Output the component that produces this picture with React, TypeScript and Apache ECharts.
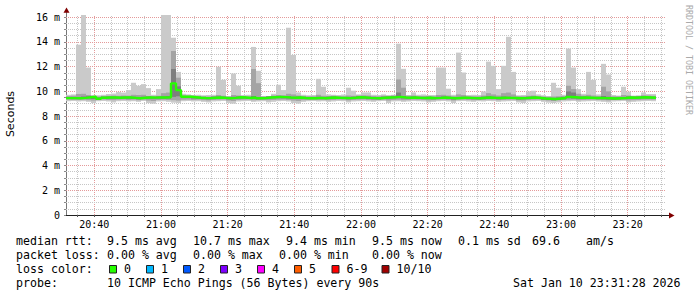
import React, { useEffect, useRef } from 'react';
import * as echarts from 'echarts';

// time in minutes of day
const axisStartMin = 1231.5; // 20:31:30
const axisEndMin = 1411.5; // 23:31:30
const firstStepMin = 1231.5;
const stepMin = 1.5; // 90 s

const xTickValues = [1240, 1260, 1280, 1300, 1320, 1340, 1360, 1380, 1400];
const xTickLabels = ['20:40', '21:00', '21:20', '21:40', '22:00', '22:20', '22:40', '23:00', '23:20'];
const yTickValues = [0, 2, 4, 6, 8, 10, 12, 14, 16];
const yTickLabels = ['0', '2 m', '4 m', '6 m', '8 m', '10 m', '12 m', '14 m', '16 m'];

// smoke: ping 1 (min) .. ping 10 (max), ms
const ping1 = [
  9.20, 9.22, 9.18, 9.20, 9.15, 9.05, 9.20, 9.22, 9.18, 9.10,
  9.20, 9.22, 9.18, 9.20, 9.15, 9.22, 9.05, 9.00, 9.18, 9.20,
  9.15, 9.08, 9.05, 9.20, 9.22, 9.18, 9.20, 9.15, 9.10, 9.18,
  9.20, 9.22, 9.05, 9.00, 9.18, 9.20, 9.22, 9.15, 9.18, 9.20,
  9.10, 9.15, 9.20, 9.22, 9.18, 9.05, 9.00, 9.15, 9.20, 9.22,
  9.18, 9.20, 9.15, 9.18, 9.22, 9.20, 9.10, 9.18, 9.20, 9.22,
  9.18, 9.15, 9.20, 9.22, 9.05, 9.18, 9.20, 9.15, 9.18, 9.22,
  9.20, 9.18, 9.10, 9.15, 9.20, 9.22, 9.18, 9.05, 9.20, 9.22,
  9.18, 9.15, 9.20, 9.18, 9.22, 9.20, 9.15, 9.18, 9.20, 9.22,
  9.10, 9.05, 9.18, 9.20, 9.22, 9.15, 9.08, 9.05, 9.10, 9.18,
  9.20, 9.22, 9.15, 9.18, 9.20, 9.22, 9.18, 9.15, 9.10, 9.18,
  9.20, 9.22, 9.10, 9.15, 9.18, 9.20, 9.22, 9.20,
];
const ping2 = [
  9.32, 9.33, 9.30, 9.32, 9.28, 9.25, 9.32, 9.33, 9.30, 9.28,
  9.32, 9.33, 9.30, 9.32, 9.28, 9.33, 9.25, 9.22, 9.30, 9.32,
  9.30, 9.28, 9.25, 9.32, 9.33, 9.30, 9.32, 9.28, 9.26, 9.30,
  9.32, 9.33, 9.25, 9.22, 9.30, 9.32, 9.33, 9.28, 9.30, 9.32,
  9.28, 9.30, 9.32, 9.33, 9.30, 9.25, 9.22, 9.28, 9.32, 9.33,
  9.30, 9.32, 9.28, 9.30, 9.33, 9.32, 9.26, 9.30, 9.32, 9.33,
  9.30, 9.28, 9.32, 9.33, 9.25, 9.30, 9.32, 9.28, 9.30, 9.33,
  9.32, 9.30, 9.26, 9.28, 9.32, 9.33, 9.30, 9.25, 9.32, 9.33,
  9.30, 9.28, 9.32, 9.30, 9.33, 9.32, 9.28, 9.30, 9.32, 9.33,
  9.26, 9.25, 9.30, 9.32, 9.33, 9.28, 9.25, 9.22, 9.26, 9.30,
  9.32, 9.33, 9.28, 9.30, 9.32, 9.33, 9.30, 9.28, 9.26, 9.30,
  9.32, 9.33, 9.26, 9.28, 9.30, 9.32, 9.33, 9.32,
];
const ping3 = [
  9.38, 9.36, 9.38, 9.40, 9.42, 9.38, 9.30, 9.40, 9.42, 9.40,
  9.40, 9.42, 9.40, 9.38, 9.36, 9.40, 9.42, 9.40, 9.42, 9.40,
  9.42, 9.55, 9.60, 9.46, 9.46, 9.42, 9.40, 9.38, 9.36, 9.40,
  9.42, 9.38, 9.36, 9.38, 9.42, 9.42, 9.38, 9.38, 9.36, 9.36,
  9.42, 9.44, 9.46, 9.44, 9.42, 9.40, 9.42, 9.38, 9.36, 9.36,
  9.38, 9.36, 9.40, 9.42, 9.38, 9.38, 9.36, 9.40, 9.42, 9.42,
  9.38, 9.36, 9.34, 9.40, 9.42, 9.44, 9.46, 9.42, 9.40, 9.42,
  9.38, 9.38, 9.40, 9.36, 9.38, 9.42, 9.38, 9.34, 9.38, 9.40,
  9.38, 9.36, 9.34, 9.40, 9.42, 9.38, 9.36, 9.40, 9.38, 9.38,
  9.34, 9.36, 9.40, 9.42, 9.38, 9.32, 9.30, 9.28, 9.32, 9.36,
  9.46, 9.42, 9.40, 9.42, 9.40, 9.38, 9.38, 9.36, 9.34, 9.32,
  9.34, 9.36, 9.42, 9.40, 9.42, 9.44, 9.42, 9.40,
];
const ping8 = [
  9.54, 9.52, 9.54, 9.58, 9.60, 9.54, 9.50, 9.56, 9.58, 9.58,
  9.56, 9.58, 9.58, 9.56, 9.52, 9.56, 9.58, 9.56, 9.58, 9.60,
  9.62, 11.80, 10.40, 9.62, 9.62, 9.58, 9.56, 9.54, 9.52, 9.56,
  9.58, 9.56, 9.52, 9.56, 9.58, 9.58, 9.54, 9.62, 9.54, 9.52,
  9.58, 9.60, 9.62, 9.60, 9.60, 9.56, 9.58, 9.54, 9.52, 9.52,
  9.56, 9.52, 9.56, 9.58, 9.54, 9.54, 9.52, 9.56, 9.60, 9.58,
  9.56, 9.52, 9.50, 9.56, 9.58, 9.60, 9.90, 9.62, 9.56, 9.58,
  9.54, 9.54, 9.56, 9.52, 9.56, 9.58, 9.56, 9.50, 9.54, 9.56,
  9.54, 9.52, 9.50, 9.56, 9.60, 9.56, 9.54, 9.58, 9.56, 9.54,
  9.50, 9.52, 9.56, 9.58, 9.54, 9.50, 9.48, 9.46, 9.50, 9.54,
  9.99, 9.90, 9.58, 9.58, 9.56, 9.54, 9.54, 9.62, 9.56, 9.50,
  9.52, 9.54, 9.58, 9.56, 9.58, 9.60, 9.58, 9.56,
];
const ping9 = [
  9.62, 9.64, 9.78, 9.80, 9.70, 9.60, 9.58, 9.62, 9.64, 9.66,
  9.64, 9.66, 9.65, 9.72, 9.70, 9.72, 9.62, 9.60, 9.64, 9.85,
  9.90, 13.26, 11.10, 9.68, 9.66, 9.64, 9.62, 9.60, 9.58, 9.62,
  9.70, 9.64, 9.58, 9.70, 9.66, 9.62, 9.60, 11.80, 10.66, 9.58,
  9.62, 9.66, 9.70, 9.68, 9.80, 9.75, 9.66, 9.62, 9.60, 9.60,
  9.72, 9.64, 9.62, 9.64, 9.62, 9.60, 9.66, 9.64, 9.66, 9.68,
  9.66, 9.62, 9.60, 9.64, 9.64, 9.66, 10.96, 10.29, 9.64, 9.66,
  9.62, 9.62, 9.64, 9.60, 9.70, 9.72, 9.66, 9.60, 9.75, 9.70,
  9.62, 9.60, 9.60, 9.66, 9.85, 9.75, 9.66, 9.85, 9.90, 9.75,
  9.60, 9.60, 9.64, 9.66, 9.62, 9.58, 9.56, 9.58, 9.60, 9.62,
  10.45, 10.18, 9.80, 9.66, 9.72, 9.66, 9.62, 10.37, 10.00, 9.60,
  9.60, 9.70, 9.66, 9.64, 9.64, 9.68, 9.66, 9.64,
];
const ping10 = [
  9.72, 9.75, 13.77, 16.20, 11.92, 9.70, 9.68, 9.72, 9.78, 9.82,
  9.94, 9.90, 10.10, 10.69, 10.45, 10.58, 10.26, 9.72, 10.18, 16.20,
  16.20, 14.33, 11.57, 9.80, 9.75, 9.70, 9.72, 9.68, 9.70, 9.72,
  11.98, 10.93, 9.62, 11.44, 10.45, 9.70, 9.72, 13.59, 11.66, 9.62,
  9.62, 9.80, 10.53, 10.10, 15.14, 12.94, 9.91, 9.72, 9.68, 9.70,
  11.01, 10.37, 9.75, 9.72, 9.70, 9.74, 10.29, 10.05, 9.75, 9.91,
  9.91, 9.72, 9.70, 9.75, 9.68, 9.72, 13.85, 11.82, 9.70, 9.91,
  9.72, 9.75, 9.68, 9.70, 11.92, 11.92, 10.21, 9.72, 13.13, 11.52,
  9.70, 9.72, 9.70, 9.99, 12.40, 12.06, 10.18, 12.06, 14.41, 11.57,
  9.68, 9.70, 9.99, 10.05, 9.75, 9.68, 9.62, 10.69, 10.29, 9.72,
  13.45, 11.92, 10.18, 9.80, 11.57, 10.93, 9.75, 12.22, 11.36, 9.70,
  9.66, 10.37, 9.97, 9.62, 9.65, 9.91, 9.78, 9.78,
];
const medianRtt = [
  9.45, 9.45, 9.44, 9.47, 9.52, 9.56, 9.40, 9.48, 9.50, 9.50,
  9.48, 9.50, 9.50, 9.47, 9.44, 9.48, 9.50, 9.49, 9.50, 9.50,
  9.52, 10.64, 10.10, 9.56, 9.56, 9.52, 9.48, 9.46, 9.45, 9.48,
  9.50, 9.47, 9.44, 9.47, 9.52, 9.50, 9.46, 9.50, 9.44, 9.45,
  9.50, 9.52, 9.54, 9.53, 9.50, 9.48, 9.50, 9.46, 9.44, 9.44,
  9.47, 9.44, 9.48, 9.50, 9.47, 9.46, 9.45, 9.48, 9.52, 9.50,
  9.47, 9.45, 9.44, 9.48, 9.50, 9.52, 9.55, 9.50, 9.48, 9.50,
  9.47, 9.46, 9.48, 9.45, 9.47, 9.50, 9.47, 9.44, 9.46, 9.48,
  9.47, 9.45, 9.44, 9.48, 9.50, 9.47, 9.46, 9.48, 9.47, 9.46,
  9.44, 9.45, 9.48, 9.50, 9.46, 9.42, 9.40, 9.38, 9.42, 9.46,
  9.54, 9.52, 9.48, 9.50, 9.48, 9.46, 9.47, 9.45, 9.44, 9.42,
  9.44, 9.46, 9.50, 9.48, 9.50, 9.52, 9.50, 9.48,
];

const medianRttStats = ['9.5 ms avg', '10.7 ms max', '9.4 ms min', '9.5 ms now', '0.1 ms sd', '69.6', 'am/s'];
const packetLossStats = ['0.00 % avg', '0.00 % max', '0.00 % min', '0.00 % now'];
const lossLabels = ['0', '1', '2', '3', '4', '5', '6-9', '10/10'];
const lossColors = ['#26ff00', '#00b8ff', '#0059ff', '#7e00ff', '#ff00ff', '#ff5e00', '#ff0000', '#a10000'];
const probeText = '10 ICMP Echo Pings (56 Bytes) every 90s';
const timestampText = 'Sat Jan 10 23:31:28 2026';
const yAxisTitle = 'Seconds';
const watermark = 'RRDTOOL / TOBI OETIKER';

const MONO = '"DejaVu Sans Mono", monospace';

export default function App() {
  const ref = useRef<HTMLDivElement>(null);
  useEffect(() => {
    const chart = echarts.init(ref.current!, null, { renderer: 'svg', width: 697, height: 297 });

    const smokeData = ping10.map((hi, i) => {
      const t0 = firstStepMin + i * stepMin;
      return [t0, t0 + stepMin, ping1[i], hi, ping2[i], ping9[i], ping3[i], ping8[i]];
    });
    const medianData: number[][] = medianRtt.map((v, i) => [firstStepMin + i * stepMin, v]);
    medianData.push([firstStepMin + medianRtt.length * stepMin, medianRtt[medianRtt.length - 1]]);

    const minorC = '#c6c6c6';
    const majorC = '#e49a9a';
    const gridLines: any[] = [];
    for (let m = 1235; m < axisEndMin; m += 5) {
      gridLines.push({ xAxis: m, lineStyle: { color: m % 20 === 0 ? majorC : minorC, type: [1, 1], width: 1 } });
    }
    for (let k = 1; k <= 32; k++) {
      gridLines.push({ yAxis: k * 0.5, lineStyle: { color: k % 4 === 0 ? majorC : minorC, type: [1, 1], width: 1 } });
    }
    const xMinorTicks: number[] = [];
    for (let m = 1235; m < axisEndMin; m += 5) xMinorTicks.push(m);
    const yMinorTicks: number[] = [];
    for (let k = 0; k <= 32; k++) yMinorTicks.push(k * 0.5);

    const smokeLayers = [
      [2, 3, '#cacaca'],
      [4, 5, '#a4a4a4'],
      [6, 7, '#7e7e7e'],
    ];

    const graphics: any[] = [];
    graphics.push({
      type: 'text', x: 10, y: 114, rotation: Math.PI / 2,
      style: { text: yAxisTitle, font: '11px "DejaVu Sans"', fill: '#000', align: 'center', verticalAlign: 'middle' },
    });
    graphics.push({
      type: 'text', x: 688.5, y: 60, rotation: -Math.PI / 2,
      style: { text: watermark, font: '8.3px ' + MONO, fill: '#aaaaaa', align: 'center', verticalAlign: 'middle' },
    });
    graphics.push({ type: 'line', shape: { x1: 66.5, y1: 15, x2: 66.5, y2: 12 }, style: { stroke: '#777', lineWidth: 1 } });
    graphics.push({ type: 'polygon', shape: { points: [[63.5, 12.7], [69.5, 12.7], [66.5, 7.5]] }, style: { fill: '#800000' } });
    graphics.push({ type: 'line', shape: { x1: 666, y1: 215.5, x2: 670, y2: 215.5 }, style: { stroke: '#212121', lineWidth: 1 } });
    graphics.push({ type: 'polygon', shape: { points: [[669, 212.5], [669, 218.5], [674.5, 215.5]] }, style: { fill: '#800000' } });

    const txt = (x: number, y: number, s: string) => ({
      type: 'text', x, y,
      style: { text: s, font: '11.6px ' + MONO, fill: '#000', align: 'left', verticalAlign: 'middle' },
    });
    graphics.push(txt(16, 241, 'median rtt:'));
    const l1x = [107, 193, 286, 372, 458, 532, 586];
    medianRttStats.forEach((s, i) => graphics.push(txt(l1x[i], 241, s)));
    graphics.push(txt(16, 255, 'packet loss:'));
    const l2x = [107, 193, 279, 372];
    packetLossStats.forEach((s, i) => graphics.push(txt(l2x[i], 255, s)));
    graphics.push(txt(16, 269, 'loss color:'));
    const boxX = [109, 146, 183, 220, 257, 294, 331.5, 381.5];
    lossLabels.forEach((s, i) => {
      graphics.push({
        type: 'rect', shape: { x: boxX[i] + 0.5, y: 265.5, width: 7, height: 7.5 },
        style: { fill: lossColors[i], stroke: '#222', lineWidth: 1 },
      });
      graphics.push(txt(boxX[i] + 15, 269, s));
    });
    graphics.push(txt(16, 283, 'probe:'));
    graphics.push(txt(107, 283, probeText));
    graphics.push(txt(513, 283, timestampText));

    const option: any = {
      animation: false,
      backgroundColor: '#ffffff',
      grid: { left: 66, right: 31, top: 15, bottom: 82, containLabel: false },
      xAxis: {
        type: 'value',
        min: axisStartMin,
        max: axisEndMin,
        splitLine: { show: false },
        axisLine: { show: true, onZero: false, lineStyle: { color: '#212121', width: 1 } },
        axisTick: { show: true, customValues: xMinorTicks, length: 2, lineStyle: { color: '#555' } },
        axisLabel: {
          customValues: xTickValues,
          formatter: (v: number) => {
            const idx = xTickValues.findIndex((t) => Math.abs(t - v) < 1e-6);
            return idx >= 0 ? xTickLabels[idx] : '';
          },
          fontFamily: MONO,
          fontSize: 10,
          color: '#000',
          margin: 4,
        },
      },
      yAxis: {
        type: 'value',
        min: 0,
        max: 16.17,
        splitLine: { show: false },
        axisLine: { show: true, lineStyle: { color: '#777', width: 1 } },
        axisTick: { show: true, customValues: yMinorTicks, length: 2, lineStyle: { color: '#888' } },
        axisLabel: {
          customValues: yTickValues,
          formatter: (v: number) => {
            const idx = yTickValues.findIndex((t) => Math.abs(t - v) < 1e-6);
            return idx >= 0 ? yTickLabels[idx] : '';
          },
          fontFamily: MONO,
          fontSize: 10,
          color: '#000',
          margin: 6,
        },
      },
      series: [
        {
          type: 'custom',
          z: 10,
          clip: true,
          silent: true,
          encode: { x: [0, 1], y: [2, 3] },
          data: smokeData,
          renderItem: (params: any, api: any) => {
            const t0 = api.value(0);
            const t1 = api.value(1);
            const children = smokeLayers.map(([a, b, c]) => {
              const p0 = api.coord([t0, api.value(b as number)]);
              const p1 = api.coord([t1, api.value(a as number)]);
              return {
                type: 'rect',
                shape: { x: p0[0], y: p0[1], width: p1[0] - p0[0], height: p1[1] - p0[1] },
                style: { fill: c as string },
              };
            });
            return { type: 'group', children };
          },
        },
        {
          type: 'line',
          z: 11,
          step: 'end',
          showSymbol: false,
          silent: true,
          data: medianData,
          lineStyle: { color: lossColors[0], width: 2.4 },
          itemStyle: { color: lossColors[0] },
          markLine: {
            silent: true,
            symbol: ['none', 'none'],
            label: { show: false },
            emphasis: { disabled: true },
            animation: false,
            data: gridLines,
          },
        },
      ],
      graphic: graphics,
    };
    chart.setOption(option);
    return () => chart.dispose();
  }, []);
  return (
    <div
      ref={ref}
      style={{ position: 'fixed', left: 0, top: 0, width: 697, height: 297, background: '#fff' }}
    />
  );
}
